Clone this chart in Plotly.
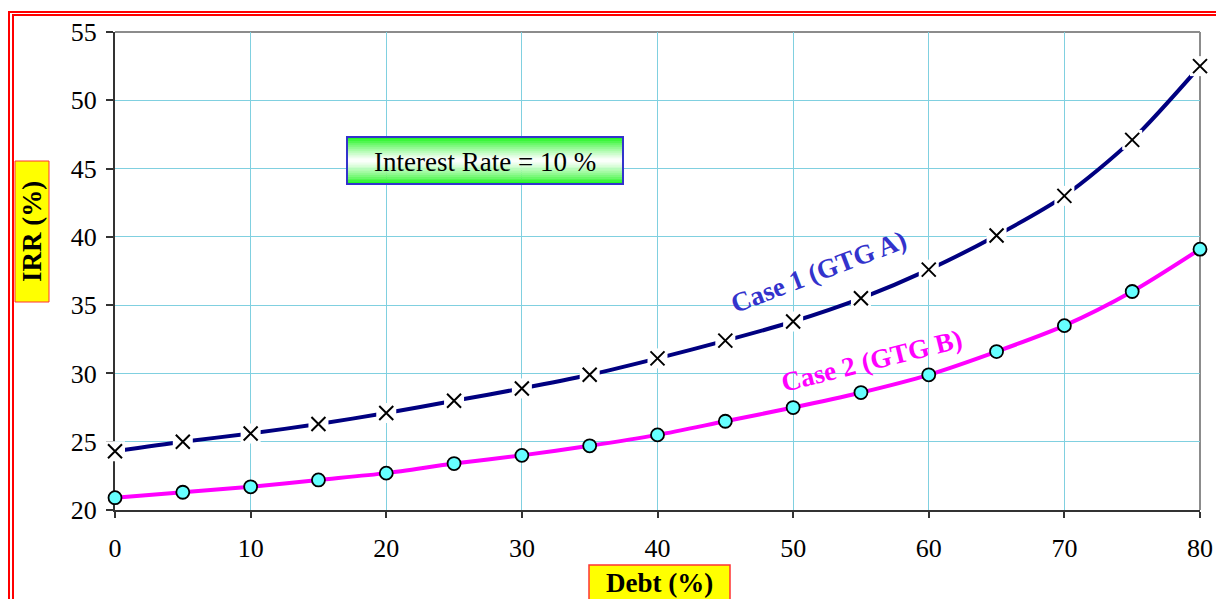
import plotly.graph_objects as go

# Debt share (%) and resulting project IRR (%) for the two gas-turbine cases
debt = [0, 5, 10, 15, 20, 25, 30, 35, 40, 45, 50, 55, 60, 65, 70, 75, 80]
irr_case1 = [24.3, 25.0, 25.6, 26.3, 27.1, 28.0, 28.9, 29.9, 31.1, 32.4,
             33.8, 35.5, 37.6, 40.1, 43.0, 47.1, 52.5]
irr_case2 = [20.9, 21.3, 21.7, 22.2, 22.7, 23.4, 24.0, 24.7, 25.5, 26.5,
             27.5, 28.6, 29.9, 31.6, 33.5, 36.0, 39.1]

x_ticks = [0, 10, 20, 30, 40, 50, 60, 70, 80]
y_ticks = [20, 25, 30, 35, 40, 45, 50, 55]

case1_label = "Case 1 (GTG A)"
case2_label = "Case 2 (GTG B)"
note_text = "Interest Rate = 10 %"
x_title = "Debt (%)"
y_title = "IRR (%)"

W, H = 1216, 599
ML, MR, MT, MB = 115, 16, 32, 89
PW, PH = W - ML - MR, H - MT - MB
FONT = "Liberation Serif"


def px(xp):
    return (xp - ML) / PW


def py(yp):
    return (H - MB - yp) / PH


fig = go.Figure()

# Case 1: navy smoothed line, X markers on white backing squares
fig.add_trace(go.Scatter(
    x=debt, y=irr_case1, mode="lines",
    line=dict(color="#000080", width=4, shape="spline", smoothing=0.8),
    cliponaxis=False, hoverinfo="skip"))
fig.add_trace(go.Scatter(
    x=debt, y=irr_case1, mode="markers",
    marker=dict(symbol="square", size=20, color="white", line=dict(width=0)),
    cliponaxis=False, hoverinfo="skip"))
fig.add_trace(go.Scatter(
    x=debt, y=irr_case1, mode="markers",
    marker=dict(symbol="x-thin", size=14, color="black",
                line=dict(color="black", width=2)),
    cliponaxis=False))

# Case 2: magenta smoothed line with cyan circle markers
fig.add_trace(go.Scatter(
    x=debt, y=irr_case2, mode="lines+markers",
    line=dict(color="#ff00ff", width=4, shape="spline", smoothing=0.8),
    marker=dict(symbol="circle", size=13, color="#66ffff",
                line=dict(color="black", width=1.8)),
    cliponaxis=False))

shapes = []

# grey frame on the top and right of the plot area
shapes.append(dict(type="line", xref="paper", yref="paper", x0=0, x1=1, y0=1, y1=1,
                   line=dict(color="#8c8c8c", width=2), layer="between"))
shapes.append(dict(type="line", xref="paper", yref="paper", x0=1, x1=1, y0=0, y1=1,
                   line=dict(color="#8c8c8c", width=2), layer="between"))

# red double border around the chart
for x0, y0 in [(9, 12), (13, 15)]:
    shapes.append(dict(type="rect", xref="paper", yref="paper",
                       x0=px(x0), x1=px(W + 20), y0=py(H + 20), y1=py(y0),
                       line=dict(color="#ff0000", width=2), fillcolor="rgba(0,0,0,0)",
                       layer="above"))

# note box with vertical green-white-green gradient
bx0, bx1, by0, by1 = 347, 623, 137, 184
n_strips = 24
mid = (by0 + by1) / 2
half = (by1 - by0) / 2
step = (by1 - by0) / n_strips
for i in range(n_strips):
    t0 = by0 + i * step
    t1 = t0 + step
    c = abs((t0 + t1) / 2 - mid) / half
    m = min(1.0, c) ** 1.2
    r = int(round(255 + (25 - 255) * m))
    g = int(round(255 + (245 - 255) * m))
    b = int(round(255 + (25 - 255) * m))
    shapes.append(dict(type="rect", xref="paper", yref="paper",
                       x0=px(bx0), x1=px(bx1), y0=py(t1 + 0.3), y1=py(t0),
                       line=dict(width=0), fillcolor=f"rgb({r},{g},{b})",
                       layer="above"))
shapes.append(dict(type="rect", xref="paper", yref="paper",
                   x0=px(bx0), x1=px(bx1), y0=py(by1), y1=py(by0),
                   line=dict(color="#3333cc", width=2), fillcolor="rgba(0,0,0,0)",
                   layer="above"))

# yellow title boxes
shapes.append(dict(type="rect", xref="paper", yref="paper",
                   x0=px(15), x1=px(49), y0=py(302), y1=py(161),
                   line=dict(color="#ff3333", width=1), fillcolor="#ffff00",
                   layer="above"))
shapes.append(dict(type="rect", xref="paper", yref="paper",
                   x0=px(589), x1=px(730), y0=py(H + 10), y1=py(565),
                   line=dict(color="#ff3333", width=1.5), fillcolor="#ffff00",
                   layer="above"))


def label(text, x, y, size, color, angle=0):
    return dict(text=text, xref="paper", yref="paper", x=px(x), y=py(y),
                xanchor="center", yanchor="middle", showarrow=False,
                textangle=angle, font=dict(family=FONT, size=size, color=color))


annotations = [
    label(note_text, 485, 162, 27, "black"),
    label(f"<b>{y_title}</b>", 32, 232, 27, "black", -90),
    label(f"<b>{x_title}</b>", 659, 583, 27, "black"),
    label(f"<b>{case1_label}</b>", 818, 272, 27, "#3333cc", -21),
    label(f"<b>{case2_label}</b>", 871, 361, 27, "#ff00ff", -14),
]

fig.update_layout(
    width=W, height=H,
    margin=dict(l=ML, r=MR, t=MT, b=MB, pad=0, autoexpand=False),
    paper_bgcolor="white", plot_bgcolor="white",
    showlegend=False,
    shapes=shapes, annotations=annotations,
    font=dict(family=FONT, size=26, color="black"),
)
fig.update_xaxes(
    range=[0, 80], tickvals=x_ticks, ticktext=[str(v) for v in x_ticks],
    showgrid=True, gridcolor="#80d0e0", gridwidth=1,
    showline=True, linecolor="#333333", linewidth=2,
    ticks="outside", ticklen=6, tickwidth=1.5, tickcolor="#333333",
    ticklabelstandoff=8, zeroline=False, layer="below traces", automargin=False,
    tickfont=dict(family=FONT, size=26, color="black"),
)
fig.update_yaxes(
    range=[20, 55], tickvals=y_ticks, ticktext=[str(v) for v in y_ticks],
    showgrid=True, gridcolor="#80d0e0", gridwidth=1,
    showline=True, linecolor="#333333", linewidth=2,
    ticks="outside", ticklen=7, tickwidth=1.5, tickcolor="#333333",
    ticklabelstandoff=4, zeroline=False, layer="below traces", automargin=False,
    tickfont=dict(family=FONT, size=26, color="black"),
)

fig.write_html("out.html")
